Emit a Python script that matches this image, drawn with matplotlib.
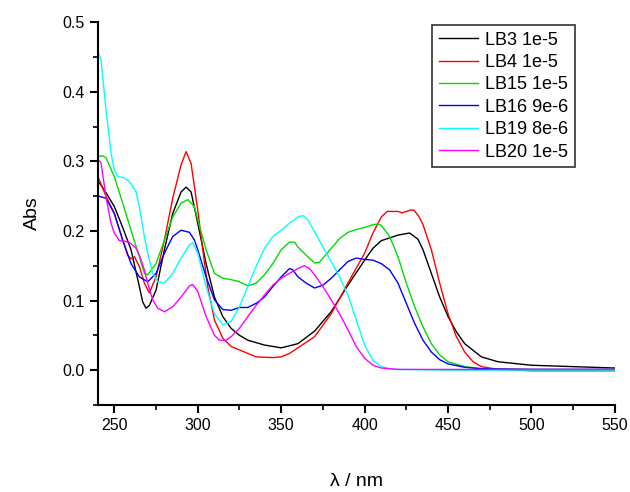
import matplotlib
matplotlib.use("Agg")
from matplotlib import pyplot as plt
from matplotlib.ticker import MultipleLocator

plt.rcParams['font.family'] = ['Liberation Sans', 'DejaVu Sans']

# LB3 1e-5
wl_lb3 = [240.5, 245, 250, 255, 260, 265, 267, 269, 271, 275, 280, 285, 290, 293, 296, 300,
          305, 310, 315, 320, 325, 330, 340, 350, 360, 370, 380, 390, 400, 405, 410, 420,
          427, 432, 435, 440, 445, 450, 455, 460, 470, 480, 500, 525, 550]
abs_lb3 = [0.271, 0.255, 0.235, 0.205, 0.173, 0.120, 0.098, 0.089, 0.093, 0.115, 0.173, 0.225,
           0.256, 0.263, 0.256, 0.211, 0.153, 0.105, 0.077, 0.060, 0.050, 0.043, 0.036, 0.032,
           0.038, 0.056, 0.084, 0.122, 0.158, 0.175, 0.186, 0.194, 0.197, 0.188, 0.173, 0.139,
           0.105, 0.077, 0.055, 0.038, 0.019, 0.012, 0.007, 0.005, 0.003]

# LB4 1e-5
wl_lb4 = [240.5, 245, 250, 255, 258, 260, 262, 265, 268, 271, 275, 280, 285, 290, 293, 296,
          300, 303, 306, 310, 315, 320, 325, 330, 335, 345, 350, 355, 360, 370, 380, 390,
          400, 405, 410, 413.5, 420, 422.5, 427.5, 429.5, 432.5, 435, 440, 445, 450, 455,
          460, 465, 470, 480, 500, 550]
abs_lb4 = [0.276, 0.250, 0.225, 0.187, 0.165, 0.160, 0.163, 0.149, 0.125, 0.111, 0.134, 0.187,
           0.247, 0.295, 0.314, 0.297, 0.230, 0.173, 0.120, 0.072, 0.046, 0.034, 0.029, 0.024,
           0.019, 0.018, 0.019, 0.024, 0.032, 0.048, 0.081, 0.125, 0.168, 0.197, 0.220, 0.228,
           0.228, 0.226, 0.230, 0.230, 0.221, 0.209, 0.173, 0.125, 0.081, 0.048, 0.026, 0.012,
           0.005, 0.001, -0.001, -0.001]

# LB15 1e-5
wl_lb15 = [240.5, 243, 245, 250, 255, 260, 265, 268, 270, 275, 280, 285, 290, 294, 298, 300,
           305, 310, 315, 320, 325, 330, 335, 340, 345, 350, 355, 358, 360, 365, 370, 373,
           375, 380, 385, 390, 395, 400, 405, 408, 410, 415, 420, 425, 430, 435, 440, 445,
           450, 460, 470, 500, 550]
abs_lb15 = [0.307, 0.308, 0.305, 0.278, 0.240, 0.201, 0.163, 0.139, 0.137, 0.153, 0.187, 0.220,
            0.240, 0.245, 0.235, 0.216, 0.173, 0.139, 0.132, 0.130, 0.127, 0.121, 0.125, 0.137,
            0.153, 0.173, 0.184, 0.184, 0.177, 0.165, 0.154, 0.155, 0.161, 0.175, 0.189, 0.198,
            0.202, 0.205, 0.209, 0.210, 0.208, 0.192, 0.163, 0.125, 0.091, 0.062, 0.038, 0.022,
            0.012, 0.005, 0.002, 0.001, 0.001]

# LB16 9e-6
wl_lb16 = [240.5, 245, 250, 255, 260, 265, 270, 275, 280, 285, 290, 295, 298, 300, 305, 310,
           315, 320, 325, 330, 335, 340, 345, 350, 355, 357, 360, 365, 370, 375, 380, 385,
           390, 395, 400, 405, 410, 415, 420, 425, 430, 435, 440, 445, 450, 460, 470, 500,
           550]
abs_lb16 = [0.250, 0.247, 0.225, 0.187, 0.153, 0.134, 0.127, 0.139, 0.168, 0.192, 0.201, 0.198,
            0.187, 0.173, 0.134, 0.101, 0.087, 0.086, 0.090, 0.090, 0.096, 0.105, 0.120, 0.134,
            0.146, 0.144, 0.134, 0.125, 0.118, 0.122, 0.132, 0.144, 0.156, 0.161, 0.159, 0.158,
            0.153, 0.144, 0.125, 0.096, 0.067, 0.043, 0.026, 0.015, 0.009, 0.004, 0.002, 0.001,
            0.001]

# LB19 8e-6
wl_lb19 = [240.5, 242, 245, 248, 250, 252, 255, 258, 260, 263, 265, 268, 270, 273, 276, 280,
           285, 290, 295, 297, 300, 305, 310, 315, 320, 325, 330, 335, 340, 345, 350, 355,
           360, 363, 366, 370, 375, 380, 385, 390, 395, 400, 405, 410, 415, 420, 450, 500,
           550]
abs_lb19 = [0.455, 0.446, 0.374, 0.312, 0.288, 0.278, 0.277, 0.273, 0.268, 0.256, 0.235, 0.192,
            0.168, 0.139, 0.127, 0.125, 0.139, 0.161, 0.180, 0.183, 0.168, 0.120, 0.081, 0.065,
            0.070, 0.091, 0.120, 0.149, 0.175, 0.192, 0.201, 0.211, 0.220, 0.222, 0.216, 0.199,
            0.177, 0.156, 0.134, 0.108, 0.072, 0.036, 0.014, 0.005, 0.002, 0.001, 0.000, 0.000,
            0.000]

# LB20 1e-5
wl_lb20 = [240.5, 242, 245, 248, 250, 253, 257, 260, 263, 265, 268, 270, 273, 276, 280, 285,
           290, 295, 297, 300, 305, 310, 313, 317, 320, 325, 330, 335, 340, 345, 350, 355,
           360, 364, 367, 370, 375, 380, 385, 390, 395, 400, 405, 410, 415, 420, 450, 500,
           550]
abs_lb20 = [0.302, 0.298, 0.249, 0.211, 0.197, 0.186, 0.185, 0.182, 0.175, 0.165, 0.144, 0.125,
            0.101, 0.089, 0.084, 0.091, 0.105, 0.121, 0.123, 0.113, 0.077, 0.050, 0.043, 0.043,
            0.048, 0.060, 0.077, 0.093, 0.108, 0.122, 0.132, 0.139, 0.146, 0.150, 0.146, 0.137,
            0.120, 0.101, 0.081, 0.058, 0.034, 0.017, 0.007, 0.003, 0.002, 0.001, 0.001, 0.001,
            0.001]

labels = ["LB3 1e-5", "LB4 1e-5", "LB15 1e-5", "LB16 9e-6", "LB19 8e-6", "LB20 1e-5"]
colors = ["#000000", "#ff0000", "#00dd00", "#0000ff", "#00ffff", "#ff00ff"]
series = [(wl_lb3, abs_lb3), (wl_lb4, abs_lb4), (wl_lb15, abs_lb15),
          (wl_lb16, abs_lb16), (wl_lb19, abs_lb19), (wl_lb20, abs_lb20)]

fig = plt.figure(figsize=(6.3, 4.92), dpi=100)
ax = fig.add_axes([0.155, 0.177, 0.821, 0.778])

for (wl, ab), lab, col in zip(series, labels, colors):
    ax.plot(wl, ab, color=col, linewidth=1.0, label=lab)

ax.set_xlim(240, 550)
ax.set_ylim(-0.05, 0.5)
ax.xaxis.set_major_locator(MultipleLocator(50))
ax.xaxis.set_minor_locator(MultipleLocator(25))
ax.yaxis.set_major_locator(MultipleLocator(0.1))
ax.yaxis.set_minor_locator(MultipleLocator(0.05))
ax.yaxis.set_major_formatter(plt.FormatStrFormatter('%.1f'))

for side in ['top', 'right']:
    ax.spines[side].set_visible(False)
for side in ['left', 'bottom']:
    ax.spines[side].set_linewidth(1.5)

ax.tick_params(which='major', direction='out', length=6, width=1.5, labelsize=11.5)
ax.tick_params(which='minor', direction='out', length=3.5, width=1.2)

ax.set_ylabel("Abs", fontsize=14, labelpad=15)
ax.set_xlabel("λ / nm", fontsize=14, labelpad=29)

leg = ax.legend(loc='upper right', bbox_to_anchor=(0.923, 0.992), borderaxespad=0,
                fontsize=13, frameon=True, fancybox=False, handlelength=2.2,
                handletextpad=0.4, labelspacing=0.3, borderpad=0.35)
leg.get_frame().set_edgecolor('black')
leg.get_frame().set_linewidth(1.2)

fig.savefig("out.png", dpi=100)
